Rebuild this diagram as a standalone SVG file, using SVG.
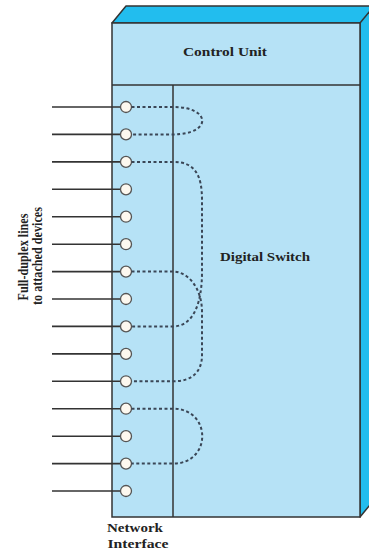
<svg xmlns="http://www.w3.org/2000/svg" width="369" height="553" viewBox="0 0 369 553">
  <style>
    .face { fill: #b6e2f6; stroke: #333; stroke-width: 1.5; }
    .depth { fill: #22bdee; stroke: #333; stroke-width: 1.5; stroke-linejoin: round; }
    .edge { stroke: #333; stroke-width: 1.5; fill: none; }
    .line { stroke: #333; stroke-width: 1.6; }
    .port { fill: #fdf8ef; stroke: #555; stroke-width: 1.3; }
    .link { fill: none; stroke: #3a4656; stroke-width: 2; stroke-dasharray: 3 2.5; }
    .lbl { font-family: "Liberation Serif", "Times New Roman", serif; font-weight: bold; font-size: 13px; fill: #222; text-anchor: middle; }
    .side { font-size: 14.5px; }
  </style>

  <!-- switch cabinet: top and side faces, then front -->
  <g id="cabinet">
    <polygon class="depth" points="112,23 126,6 374,6 374,500 360,517 360,23"/>
    <line class="edge" x1="360" y1="23" x2="374" y2="6"/>
    <rect class="face" x="112" y="23" width="248" height="494"/>
  </g>

  <g id="control-unit">
    <line class="edge" x1="112" y1="85" x2="360" y2="85"/>
    <text class="lbl" x="225" y="56" textLength="84" lengthAdjust="spacingAndGlyphs">Control Unit</text>
  </g>

  <g id="network-interface">
    <line class="edge" x1="173" y1="85" x2="173" y2="517"/>
    <text class="lbl" x="135" y="532" textLength="56" lengthAdjust="spacingAndGlyphs">Network</text>
    <text class="lbl" x="138" y="548" textLength="61" lengthAdjust="spacingAndGlyphs">Interface</text>
  </g>

  <g id="digital-switch">
    <text class="lbl" x="265" y="261" textLength="90" lengthAdjust="spacingAndGlyphs">Digital Switch</text>
  </g>

  <!-- attached lines and interface ports -->
  <g id="ports">
    <line class="line" x1="52" y1="107" x2="121" y2="107"/>
    <line class="line" x1="52" y1="134.4" x2="121" y2="134.4"/>
    <line class="line" x1="52" y1="161.9" x2="121" y2="161.9"/>
    <line class="line" x1="52" y1="189.3" x2="121" y2="189.3"/>
    <line class="line" x1="52" y1="216.7" x2="121" y2="216.7"/>
    <line class="line" x1="52" y1="244.2" x2="121" y2="244.2"/>
    <line class="line" x1="52" y1="271.6" x2="121" y2="271.6"/>
    <line class="line" x1="52" y1="299" x2="121" y2="299"/>
    <line class="line" x1="52" y1="326.4" x2="121" y2="326.4"/>
    <line class="line" x1="52" y1="353.9" x2="121" y2="353.9"/>
    <line class="line" x1="52" y1="381.3" x2="121" y2="381.3"/>
    <line class="line" x1="52" y1="408.7" x2="121" y2="408.7"/>
    <line class="line" x1="52" y1="436.2" x2="121" y2="436.2"/>
    <line class="line" x1="52" y1="463.6" x2="121" y2="463.6"/>
    <line class="line" x1="52" y1="491" x2="121" y2="491"/>

    <circle class="port" cx="126" cy="107" r="5.5"/>
    <circle class="port" cx="126" cy="134.4" r="5.5"/>
    <circle class="port" cx="126" cy="161.9" r="5.5"/>
    <circle class="port" cx="126" cy="189.3" r="5.5"/>
    <circle class="port" cx="126" cy="216.7" r="5.5"/>
    <circle class="port" cx="126" cy="244.2" r="5.5"/>
    <circle class="port" cx="126" cy="271.6" r="5.5"/>
    <circle class="port" cx="126" cy="299" r="5.5"/>
    <circle class="port" cx="126" cy="326.4" r="5.5"/>
    <circle class="port" cx="126" cy="353.9" r="5.5"/>
    <circle class="port" cx="126" cy="381.3" r="5.5"/>
    <circle class="port" cx="126" cy="408.7" r="5.5"/>
    <circle class="port" cx="126" cy="436.2" r="5.5"/>
    <circle class="port" cx="126" cy="463.6" r="5.5"/>
    <circle class="port" cx="126" cy="491" r="5.5"/>
  </g>

  <!-- switched connections between port pairs -->
  <g id="connections">
    <path class="link" d="M131.5,107 H173 C212,107 212,134.4 173,134.4 H131.5"/>
    <path class="link" d="M131.5,161.9 H173 C195,161.9 202,175 202,200 V272 C202,302 194,326.4 173,326.4 H131.5"/>
    <path class="link" d="M131.5,271.6 H173 C188,271.6 202,288 202,312 V355 C202,372 192,381.3 173,381.3 H131.5"/>
    <path class="link" d="M131.5,408.7 H173 C212,408.7 212,463.6 173,463.6 H131.5"/>
  </g>

  <g id="lines-label">
    <text class="lbl side" transform="translate(28,257) rotate(-90)" textLength="87" lengthAdjust="spacingAndGlyphs">Full-duplex lines</text>
    <text class="lbl side" transform="translate(42,256) rotate(-90)" textLength="98" lengthAdjust="spacingAndGlyphs">to attached devices</text>
  </g>
</svg>
